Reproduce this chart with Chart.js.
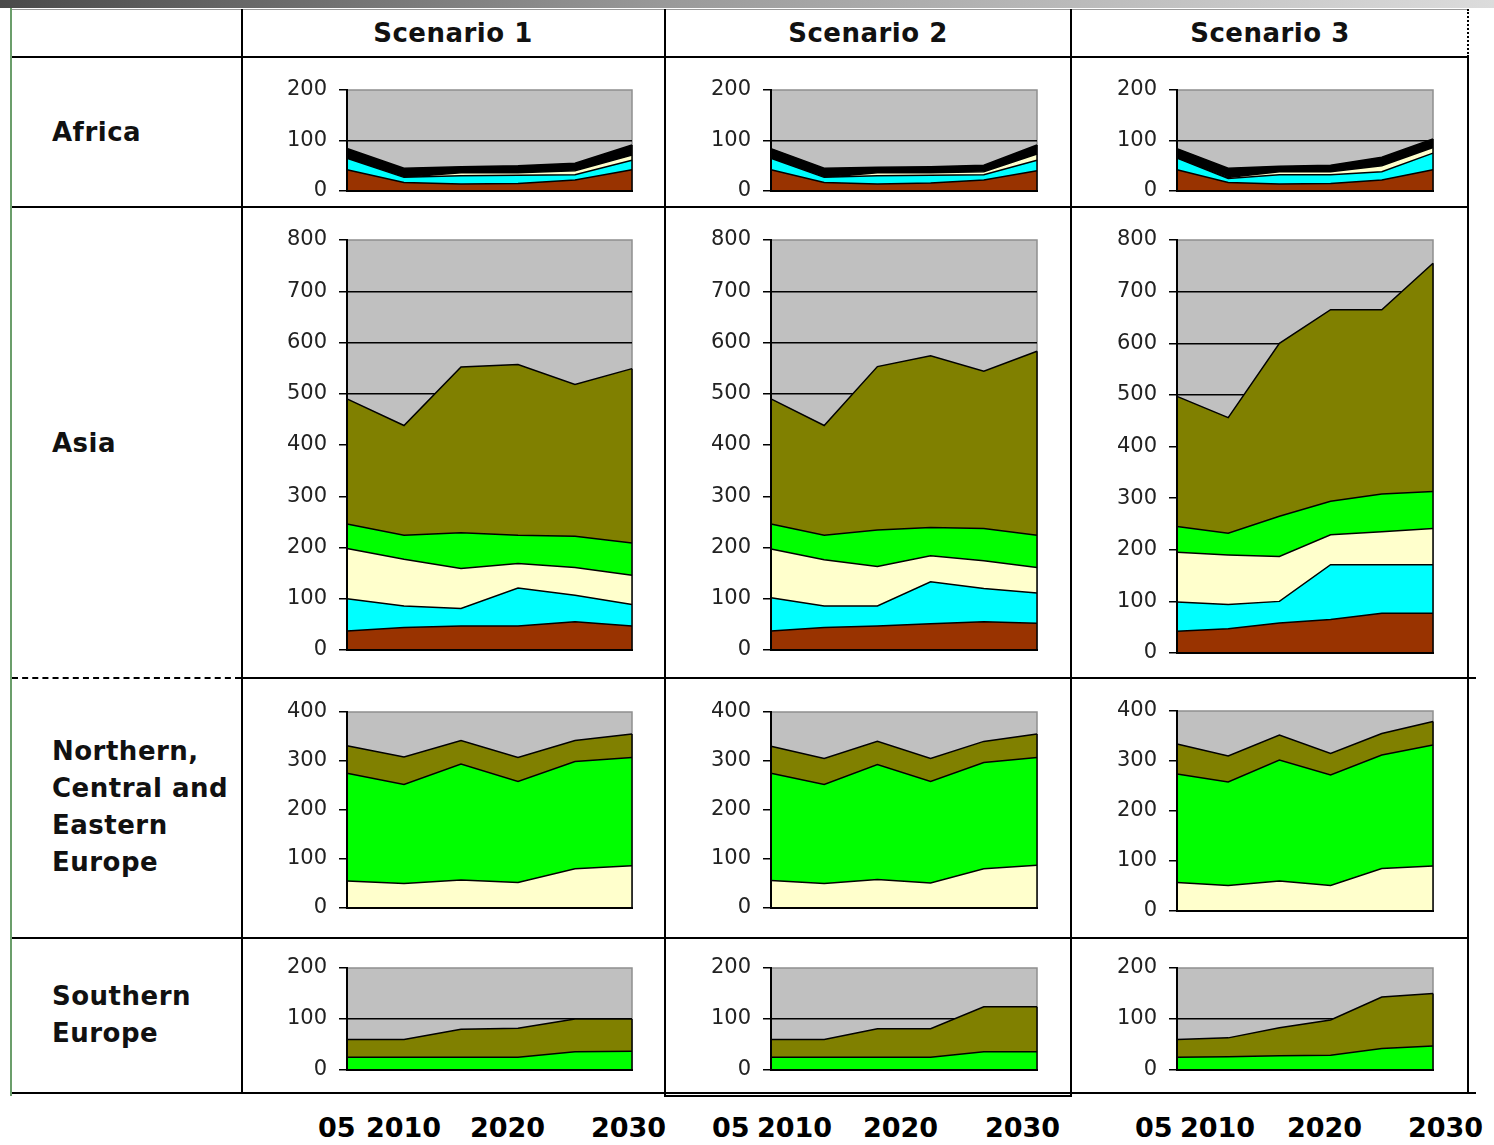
<!DOCTYPE html>
<html lang="en">
<head>
<meta charset="UTF-8">
<title>Scenarios by region</title>
<script src="https://cdn.jsdelivr.net/npm/chart.js"></script>
<style>
  body { margin: 0; background: #fff; }
  #page { position: relative; width: 1494px; height: 1145px; overflow: hidden; font-family: "DejaVu Sans", Verdana, sans-serif; }
  .ln { position: absolute; background: #000; }
  .head { position: absolute; top: 14px; height: 38px; line-height: 38px; text-align: center; font-weight: bold; font-size: 26px; color: #111; letter-spacing: 0.5px; }
  .rowlab { position: absolute; left: 52px; font-weight: bold; font-size: 26px; line-height: 37px; color: #111; letter-spacing: 0.5px; }
  .yr { position: absolute; top: 1112px; font-weight: bold; font-size: 27px; line-height: 32px; color: #000; }
</style>
</head>
<body>
<div id="page">
  <!-- slide decoration and table rules -->
  <div class="ln" style="left:0;top:0;width:1494px;height:8px;background:linear-gradient(to right,#4a4a4a,#9a9a9a 45%,#dcdcdc)"></div>
  <div class="ln" style="left:10px;top:8px;width:2px;height:1088px;background:#6b9e6b"></div>
  <div class="ln" style="left:12px;top:9px;width:1456px;height:1px;background:#9a9a9a"></div>
  <div class="ln" style="left:12px;top:56px;width:1456px;height:2px"></div>
  <div class="ln" style="left:241px;top:9px;width:2px;height:1085px"></div>
  <div class="ln" style="left:664px;top:9px;width:2px;height:1088px"></div>
  <div class="ln" style="left:1070px;top:9px;width:2px;height:1088px"></div>
  <div class="ln" style="left:1467px;top:9px;width:0;height:48px;background:none;border-left:2px dotted #000"></div>
  <div class="ln" style="left:1467px;top:57px;width:2px;height:1037px"></div>
  <div class="ln" style="left:12px;top:206px;width:1456px;height:2px"></div>
  <div class="ln" style="left:12px;top:677px;width:229px;height:0;background:none;border-top:2px dashed #000"></div>
  <div class="ln" style="left:241px;top:677px;width:1235px;height:2px"></div>
  <div class="ln" style="left:12px;top:937px;width:1456px;height:2px"></div>
  <div class="ln" style="left:12px;top:1092px;width:1464px;height:2px"></div>
  <div class="ln" style="left:664px;top:1095px;width:408px;height:2px"></div>
</div>

<script>
const years = ['2005', '2010', '2015', '2020', '2025', '2030'];
const scenarios = ['Scenario 1', 'Scenario 2', 'Scenario 3'];
const regions = ['Africa', 'Asia', 'Northern, Central and Eastern Europe', 'Southern Europe'];
const regionLines = [['Africa'], ['Asia'], ['Northern,', 'Central and', 'Eastern', 'Europe'], ['Southern', 'Europe']];
const yearTicks = ['05', '2010', '2020', '2030'];
const yMax = [200, 800, 400, 200];

// stacked layer values, one row per scenario (bottom layer first)
const africaBrown = [[42, 17, 14, 15, 22, 42], [42, 17, 14, 16, 22, 40], [42, 17, 14, 15, 22, 42]];
const africaCyan  = [[23, 10, 16, 16, 10, 19], [23, 10, 16, 15, 10, 21], [23, 8, 18, 17, 16, 33]];
const africaCream = [[0, 0, 6, 5, 8, 10], [0, 0, 6, 5, 6, 12], [0, 2, 6, 6, 12, 11]];
const africaBlack = [[19, 18, 12, 14, 15, 20], [19, 18, 11, 12, 13, 18], [19, 18, 11, 13, 17, 17]];

const asiaBrown = [[37, 44, 47, 47, 55, 47], [37, 44, 47, 51, 55, 52], [42, 47, 58, 65, 77, 77]];
const asiaCyan  = [[63, 42, 34, 74, 52, 42], [65, 42, 39, 82, 65, 59], [57, 47, 42, 106, 94, 94]];
const asiaCream = [[98, 91, 78, 48, 54, 57], [95, 90, 77, 51, 54, 50], [96, 96, 87, 58, 64, 70]];
const asiaGreen = [[48, 47, 70, 55, 61, 63], [49, 48, 71, 55, 63, 63], [50, 42, 78, 65, 73, 72]];
const asiaOlive = [[244, 214, 323, 333, 296, 340], [244, 214, 319, 335, 307, 359], [252, 224, 335, 371, 357, 442]];

const neEuCream = [[55, 50, 57, 52, 80, 86], [56, 50, 58, 51, 80, 87], [57, 51, 60, 51, 85, 90]];
const neEuGreen = [[220, 202, 237, 206, 219, 221], [219, 202, 235, 207, 217, 220], [217, 207, 242, 221, 227, 242]];
const neEuOlive = [[56, 56, 48, 49, 43, 48], [55, 53, 47, 47, 43, 48], [60, 52, 50, 43, 43, 47]];

const sEuGreen = [[25, 25, 25, 25, 36, 37], [25, 25, 25, 25, 36, 36], [25, 26, 28, 29, 42, 47]];
const sEuOlive = [[35, 35, 55, 57, 64, 63], [35, 35, 56, 56, 88, 88], [35, 37, 55, 69, 101, 103]];

const colors = { brown: '#993300', cyan: '#00ffff', cream: '#ffffcc', green: '#00ff00', olive: '#808000', black: '#000000' };

const layers = [
    [['brown', africaBrown], ['cyan', africaCyan], ['cream', africaCream], ['black', africaBlack]],
    [['brown', asiaBrown], ['cyan', asiaCyan], ['cream', asiaCream], ['green', asiaGreen], ['olive', asiaOlive]],
    [['cream', neEuCream], ['green', neEuGreen], ['olive', neEuOlive]],
    [['green', sEuGreen], ['olive', sEuOlive]]
];

// where each plot area sits on the page
const plotX = [[347, 632], [771, 1037], [1177, 1433]];
const plotY = [[90, 191], [240, 650], [712, 908], [968, 1070]];
// the third column is slightly taller in two rows
const plotYCol3 = [[90, 191], [240, 653], [711, 911], [968, 1070]];
const headCenter = [453, 868, 1270];
const rowTop = [114, 425, 733, 978];
const yearLeft = [[318, 366, 470, 591], [712, 757, 863, 985], [1135, 1180, 1287, 1408]];

const page = document.getElementById('page');

function addText(cls, text, style) {
    const d = document.createElement('div');
    d.className = cls;
    d.textContent = text;
    d.style.cssText = style;
    page.appendChild(d);
}

scenarios.forEach((s, c) => addText('head', s, `left:${headCenter[c] - 150}px;width:300px`));
regionLines.forEach((lines, r) => {
    const d = document.createElement('div');
    d.className = 'rowlab';
    d.style.top = rowTop[r] + 'px';
    d.innerHTML = lines.join('<br>');
    page.appendChild(d);
});
yearLeft.forEach(col => col.forEach((x, i) => addText('yr', yearTicks[i], `left:${x}px`)));

// grey plot background plus the black edge where the areas end
const plotBg = {
    id: 'plotBg',
    beforeDraw(chart) {
        const { ctx, chartArea: { left, top, right, bottom } } = chart;
        ctx.save();
        ctx.fillStyle = '#c0c0c0';
        ctx.fillRect(left, top, right - left, bottom - top);
        ctx.strokeStyle = '#8f8f8f';
        ctx.lineWidth = 1.5;
        ctx.beginPath();
        ctx.moveTo(left, top);
        ctx.lineTo(right, top);
        ctx.lineTo(right, bottom);
        ctx.stroke();
        ctx.restore();
    },
    afterDatasetsDraw(chart) {
        const meta = chart.getDatasetMeta(chart.data.datasets.length - 1);
        const pt = meta.data[meta.data.length - 1];
        const ctx = chart.ctx;
        ctx.save();
        ctx.strokeStyle = '#000';
        ctx.lineWidth = 1.5;
        ctx.beginPath();
        ctx.moveTo(pt.x, chart.chartArea.bottom);
        ctx.lineTo(pt.x, pt.y);
        ctx.stroke();
        ctx.restore();
    }
};

// padding larger than the half-height of the tick labels so the plot box lands exactly
const axisW = 80, padT = 28, padB = 28, padR = 4;

regions.forEach((reg, r) => {
    scenarios.forEach((sc, c) => {
        const [x0, x1] = plotX[c];
        const [y0, y1] = c === 2 ? plotYCol3[r] : plotY[r];
        const w = x1 - x0 + axisW + padR;
        const h = y1 - y0 + padT + padB;
        const canvas = document.createElement('canvas');
        canvas.width = w;
        canvas.height = h;
        canvas.style.cssText = `position:absolute;left:${x0 - axisW}px;top:${y0 - padT}px;width:${w}px;height:${h}px`;
        page.appendChild(canvas);

        new Chart(canvas, {
            type: 'line',
            data: {
                labels: years,
                datasets: layers[r].map(([name, vals], i) => ({
                    label: name,
                    data: vals[c],
                    backgroundColor: colors[name],
                    borderColor: '#000',
                    borderWidth: 1.5,
                    fill: i === 0 ? 'origin' : '-1',
                    pointRadius: 0,
                    tension: 0
                }))
            },
            options: {
                responsive: false,
                animation: false,
                devicePixelRatio: 1,
                layout: { padding: { top: padT, bottom: padB, left: 0, right: padR } },
                plugins: { legend: { display: false }, tooltip: { enabled: false } },
                scales: {
                    x: {
                        offset: false,
                        grid: { display: false },
                        ticks: { display: false },
                        border: { display: true, color: '#000', width: 2, z: 1 },
                        afterFit: s => { s.height = 0; }
                    },
                    y: {
                        stacked: true,
                        min: 0,
                        max: yMax[r],
                        ticks: { stepSize: 100, color: '#222', padding: 12, font: { family: 'DejaVu Sans', size: 21 } },
                        grid: {
                            color: ctx => (ctx.tick && ctx.tick.value === yMax[r]) ? 'rgba(0,0,0,0)' : '#000',
                            lineWidth: 1.5,
                            tickColor: '#000',
                            tickLength: 8,
                            tickWidth: 1.5
                        },
                        border: { color: '#000', width: 2, z: 1 },
                        afterFit: s => { s.width = axisW; }
                    }
                }
            },
            plugins: [plotBg]
        });
    });
});
</script>
</body>
</html>
